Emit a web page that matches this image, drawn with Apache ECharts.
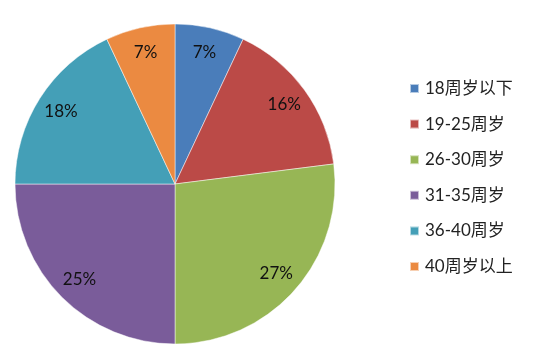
<!DOCTYPE html>
<html><head><meta charset="utf-8">
<script src="https://cdn.jsdelivr.net/npm/echarts@6/dist/echarts.min.js"></script>
<style>html,body{margin:0;padding:0;background:#fff}#c{width:552px;height:351px}</style>
</head><body><div id="c"></div>
<script>
const categories = ['18周岁以下','19-25周岁','26-30周岁','31-35周岁','36-40周岁','40周岁以上'];
const values = [7, 16, 27, 25, 18, 7];
const colors = ['#4A7DBA','#BB4A47','#97B655','#7A5C9A','#449FB7','#EB8A41'];

const data = categories.map((n,i)=>({name:n, value:values[i]}));
const chart = echarts.init(document.getElementById('c'), null, {renderer:'canvas'});
const font = "Lato, 'Noto Sans CJK SC', sans-serif";
chart.setOption({
  animation:false,
  color: colors,
  legend:{
    orient:'vertical', left:404, top:75,
    itemWidth:9, itemHeight:9, itemGap:18.6, icon:'rect',
    textStyle:{fontSize:17, color:'#222', fontFamily:font, padding:[0,0,0,1]},
    data: categories
  },
  series:[
    {type:'pie', center:[175,184], radius:[0,160], startAngle:90, clockwise:true,
     data:data, label:{show:false}, labelLine:{show:false},
     itemStyle:{borderColor:'rgba(255,255,255,0.6)', borderWidth:0.8},
     emphasis:{disabled:true}, silent:true},
    {type:'pie', center:[175,184], radius:[104,160], startAngle:90, clockwise:true,
     data:data, itemStyle:{color:'transparent'}, legendHoverLink:false,
     label:{show:true, position:'inside', formatter:'{c}%', fontSize:17, color:'#111', fontFamily:font},
     labelLine:{show:false}, emphasis:{disabled:true}, silent:true}
  ]
});
</script></body></html>
